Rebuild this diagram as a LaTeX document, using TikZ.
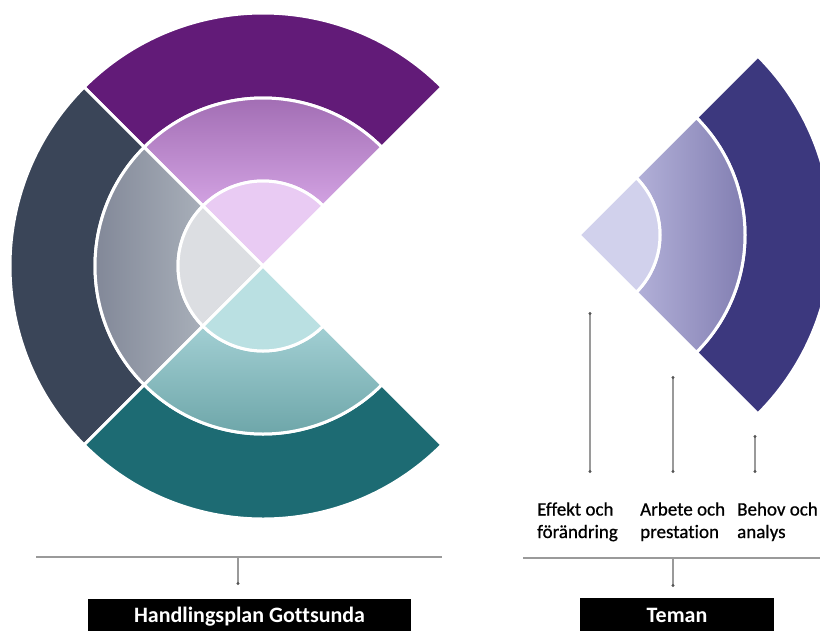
\documentclass[tikz,border=0pt]{standalone}
\usepackage{fontspec}
\setmainfont[Ligatures=NoCommon]{Carlito}
\newfontfamily\themefont[Ligatures=NoCommon, FakeBold=0.7]{Carlito}
\usetikzlibrary{arrows.meta,calc}
\definecolor{plumdark}{HTML}{621B78}
\definecolor{slatedark}{HTML}{3A4558}
\definecolor{tealdark}{HTML}{1D6B73}
\definecolor{plumtop}{HTML}{9B66AD}
\definecolor{plumbot}{HTML}{D2A2E2}
\definecolor{slateleft}{HTML}{7C8293}
\definecolor{slateright}{HTML}{A8AFB9}
\definecolor{tealtop}{HTML}{A2CFD3}
\definecolor{tealbot}{HTML}{66A0A3}
\definecolor{plumlight}{HTML}{E9CBF3}
\definecolor{slatelight}{HTML}{DCDEE2}
\definecolor{teallight}{HTML}{BAE0E2}
\definecolor{indigodark}{HTML}{3C387E}
\definecolor{indigoleft}{HTML}{B2B0D8}
\definecolor{indigoright}{HTML}{7B77AC}
\definecolor{indigolight}{HTML}{D1D1EC}
\definecolor{guidegray}{HTML}{9A9A9A}
\definecolor{dotgray}{HTML}{555555}
% ring sector: style, start angle, end angle, inner radius, outer radius
\newcommand{\ringpart}[5]{\path[#1] (#2:#5) arc[start angle=#2, end angle=#3, radius=#5] -- (#3:#4) arc[start angle=#3, end angle=#2, radius=#4] -- cycle;}
% pie sector: style, start angle, end angle, radius
\newcommand{\wedgepart}[4]{\path[#1] (0,0) -- (#2:#4) arc[start angle=#2, end angle=#3, radius=#4] -- cycle;}

\begin{document}
\begin{tikzpicture}[x=1pt, y=1pt,
    seg/.style={draw=white, line width=3pt, line join=round},
    guide/.style={draw=guidegray, line width=1.1pt},
    pinline/.style={guide, {Circle[length=3pt, color=dotgray]}-{Circle[length=3pt, color=dotgray]}},
    themetext/.style={anchor=base west, align=left, inner sep=0pt, font=\themefont\fontsize{19}{22.5}\selectfont},
    titlebox/.style={fill=black, text=white, inner sep=0pt, minimum height=34pt, anchor=north,
      font=\fontsize{22}{26}\selectfont\bfseries}]
  \useasboundingbox (0,-630) rectangle (820,0);
  \clip (0,-630) rectangle (820,0);
  % left figure
  \begin{scope}[shift={(263,-266)}]
    \ringpart{seg, fill=plumdark}{45}{135}{168}{253}
    \ringpart{seg, fill=slatedark}{135}{225}{168}{253}
    \ringpart{seg, fill=tealdark}{225}{315}{168}{253}
    \ringpart{seg, top color=plumtop, bottom color=plumbot}{45}{135}{85}{168}
    \ringpart{seg, left color=slateleft, right color=slateright}{135}{225}{85}{168}
    \ringpart{seg, top color=tealtop, bottom color=tealbot}{225}{315}{85}{168}
    \wedgepart{seg, fill=plumlight}{45}{135}{85}
    \wedgepart{seg, fill=slatelight}{135}{225}{85}
    \wedgepart{seg, fill=teallight}{225}{315}{85}
  \end{scope}
  % right figure
  \begin{scope}[shift={(579,-235)}]
    \ringpart{seg, fill=indigodark}{-45}{45}{166}{253}
    \ringpart{seg, left color=indigoleft, right color=indigoright}{-45}{45}{81}{166}
    \wedgepart{seg, fill=indigolight}{-45}{45}{81}
  \end{scope}
  % pins
  \coordinate (effTop) at (590,-312);
  \coordinate (effBot) at (590,-473);
  \coordinate (arbTop) at (673,-376);
  \coordinate (arbBot) at (673,-473);
  \coordinate (behTop) at (755,-435);
  \coordinate (behBot) at (755,-473);
  \draw[pinline] (effTop) -- (effBot);
  \draw[pinline] (arbTop) -- (arbBot);
  \draw[pinline] (behTop) -- (behBot);
  % theme labels
  \node[themetext] (effekt) at (537,-538) {Effekt och\\förändring};
  \node[themetext] (arbete) at (640,-538) {Arbete och\\prestation};
  \node[themetext] (behov) at (737,-538) {Behov och\\analys};
  % brackets
  \coordinate (planL) at (36,-557);
  \coordinate (planR) at (442,-557);
  \coordinate (planJoin) at (238,-557);
  \coordinate (planDot) at (238,-585);
  \coordinate (temaL) at (523,-558);
  \coordinate (temaR) at (820,-558);
  \coordinate (temaJoin) at (673,-558);
  \coordinate (temaDot) at (673,-587);
  \draw[guide] (planL) -- (planR);
  \draw[guide] (temaL) -- (temaR);
  \draw[guide, -{Circle[length=3pt, color=dotgray]}] (planJoin) -- (planDot);
  \draw[guide, -{Circle[length=3pt, color=dotgray]}] (temaJoin) -- (temaDot);
  % titles
  \node[titlebox, minimum width=323pt] (plan) at (249.5,-599) {Handlingsplan Gottsunda};
  \node[titlebox, minimum width=194pt] (teman) at (677,-598) {Teman};
\end{tikzpicture}
\end{document}
